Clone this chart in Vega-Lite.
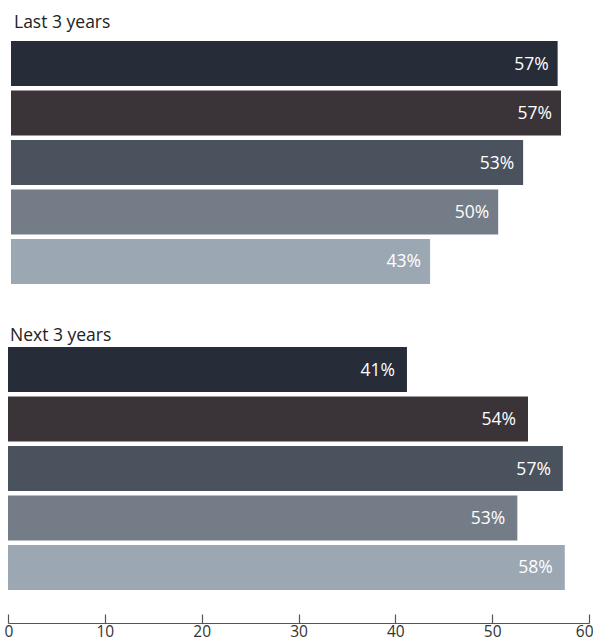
{
  "$schema": "https://vega.github.io/schema/vega-lite/v6.json",
  "padding": {"left": 4, "top": 13, "right": 0, "bottom": 20},
  "background": "white",
  "config": {
    "view": {"stroke": null},
    "font": "Open Sans",
    "title": {"font": "Open Sans", "fontSize": 17.5, "fontWeight": "normal", "color": "#222222", "anchor": "start"}
  },
  "data": {
    "values": [
      {"period": "Last 3 years", "cat": "c1", "value": 57.0, "label": "57%"},
      {"period": "Last 3 years", "cat": "c2", "value": 57.35, "label": "57%"},
      {"period": "Last 3 years", "cat": "c3", "value": 53.4, "label": "53%"},
      {"period": "Last 3 years", "cat": "c4", "value": 50.8, "label": "50%"},
      {"period": "Last 3 years", "cat": "c5", "value": 43.7, "label": "43%"},
      {"period": "Next 3 years", "cat": "c1", "value": 41.2, "label": "41%"},
      {"period": "Next 3 years", "cat": "c2", "value": 53.7, "label": "54%"},
      {"period": "Next 3 years", "cat": "c3", "value": 57.3, "label": "57%"},
      {"period": "Next 3 years", "cat": "c4", "value": 52.6, "label": "53%"},
      {"period": "Next 3 years", "cat": "c5", "value": 57.5, "label": "58%"}
    ]
  },
  "vconcat": [
    {
      "title": {"text": "Last 3 years", "dx": 6, "offset": 10},
      "width": 581,
      "height": 243,
      "transform": [{"filter": "datum.period === 'Last 3 years'"}],
      "encoding": {
        "y": {"field": "cat", "type": "nominal", "axis": null, "scale": {"paddingInner": 0.09, "paddingOuter": 0}},
        "x": {"field": "value", "type": "quantitative", "axis": null, "scale": {"domain": [-0.313, 60.27], "nice": false}}
      },
      "layer": [
        {
          "mark": {"type": "bar"},
          "encoding": {
            "color": {"field": "cat", "type": "nominal", "legend": null,
              "scale": {"domain": ["c1", "c2", "c3", "c4", "c5"], "range": ["#262c38", "#3a3338", "#4a525e", "#737c87", "#9ba7b3"]}}
          }
        },
        {
          "mark": {"type": "text", "align": "right", "baseline": "middle", "dx": -9, "dy": 1, "color": "white", "fontSize": 17.5, "font": "Open Sans"},
          "encoding": {"text": {"field": "label"}}
        }
      ]
    },
    {
      "title": {"text": "Next 3 years", "dx": 6, "offset": 3},
      "width": 581,
      "height": 243,
      "transform": [{"filter": "datum.period === 'Next 3 years'"}],
      "encoding": {
        "y": {"field": "cat", "type": "nominal", "axis": null, "scale": {"paddingInner": 0.09, "paddingOuter": 0}},
        "x": {"field": "value", "type": "quantitative",
          "scale": {"domain": [0, 60], "nice": false},
          "axis": {"title": null, "values": [0, 10, 20, 30, 40, 50, 60], "grid": false, "offset": 33,
            "tickSize": -9, "labelPadding": 22, "labelBaseline": "alphabetic", "labelFontSize": 15.5, "labelFont": "Open Sans", "labelColor": "#333333",
            "domainColor": "#555555", "tickColor": "#555555", "domainWidth": 1.2, "tickWidth": 1.2,
            "labelFlush": true, "labelFlushOffset": 4}}
      },
      "layer": [
        {
          "mark": {"type": "bar"},
          "encoding": {
            "color": {"field": "cat", "type": "nominal", "legend": null,
              "scale": {"domain": ["c1", "c2", "c3", "c4", "c5"], "range": ["#262c38", "#3a3338", "#4a525e", "#737c87", "#9ba7b3"]}}
          }
        },
        {
          "mark": {"type": "text", "align": "right", "baseline": "middle", "dx": -12, "dy": 1, "color": "white", "fontSize": 17.5, "font": "Open Sans"},
          "encoding": {"text": {"field": "label"}}
        }
      ]
    }
  ],
  "spacing": 42
}
